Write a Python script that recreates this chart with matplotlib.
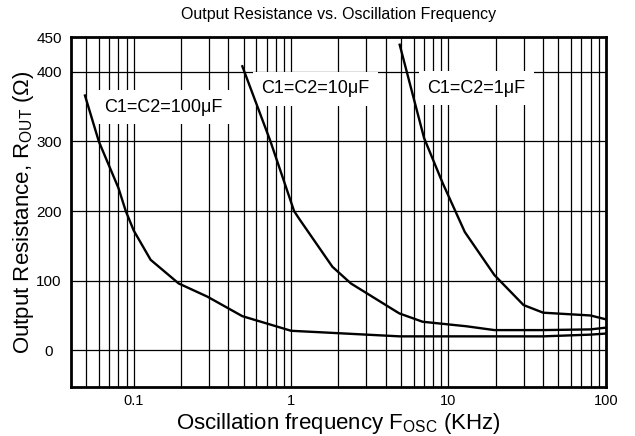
import matplotlib
matplotlib.use("Agg")
import matplotlib.pyplot as plt
import numpy as np

plt.rcParams["font.family"] = ["Liberation Sans", "DejaVu Sans"]
plt.rcParams["mathtext.fontset"] = "custom"
plt.rcParams["mathtext.rm"] = "Liberation Sans"
plt.rcParams["mathtext.it"] = "Liberation Sans"

# curves (freq in kHz, resistance in ohms)
f_100u = [0.049, 0.06, 0.08, 0.089, 0.1, 0.128, 0.193, 0.294, 0.49, 1.0, 1.5, 4.9, 40, 80, 100]
r_100u = [366, 300, 233, 200, 172, 130, 96, 77, 49, 28, 26, 20, 20, 22.5, 24]

f_10u = [0.49, 0.74, 1.045, 1.125, 1.83, 2.4, 4.87, 6.85, 13, 19.6, 40, 80, 100]
r_10u = [408, 300, 200, 189, 120, 96, 53, 41, 34.5, 29, 29, 30, 32.5]

f_1u = [4.9, 7.0, 9.2, 12.7, 19.6, 30, 40, 80, 100]
r_1u = [439, 305, 240, 170, 108, 65, 54, 50, 44.5]

labels = ["C1=C2=100\u03bcF", "C1=C2=10\u03bcF", "C1=C2=1\u03bcF"]
label_pos = [(0.0653, 343), (0.644, 369), (7.35, 370)]

fig, ax = plt.subplots(figsize=(6.35, 4.36), dpi=100)
fig.subplots_adjust(left=0.112, right=0.954, top=0.915, bottom=0.112)

ax.set_xscale("log")
ax.set_xlim(0.04, 100)
ax.set_ylim(-53, 450)

# grid: every log minor line, plus every 100 ohms
vlines = [m * 10.0**e for e in range(-2, 2) for m in range(1, 10)]
vlines = [v for v in vlines if 0.04 < v < 100]
for v in vlines:
    ax.axvline(v, color="black", lw=0.9, zorder=1)
for h in [0, 100, 200, 300, 400]:
    ax.axhline(h, color="black", lw=0.9, zorder=1)

for f, r in [(f_100u, r_100u), (f_10u, r_10u), (f_1u, r_1u)]:
    ax.plot(f, r, color="black", lw=1.7, zorder=3)

for txt, (x, y) in zip(labels, label_pos):
    ax.text(x, y, txt, fontsize=13, va="baseline", ha="left", zorder=2,
            bbox=dict(facecolor="white", edgecolor="none", pad=6))

ax.set_xticks([0.1, 1, 10, 100])
ax.set_xticklabels(["0.1", "1", "10", "100"])
ax.xaxis.set_minor_locator(matplotlib.ticker.NullLocator())
ax.set_yticks([0, 100, 200, 300, 400, 450])
ax.tick_params(axis="x", length=0, labelsize=10.5, pad=5)
ax.tick_params(axis="y", length=0, labelsize=11, pad=16)
for lab in ax.get_yticklabels():
    lab.set_horizontalalignment("center")

for s in ax.spines.values():
    s.set_linewidth(2)
    s.set_zorder(4)

ax.set_title("Output Resistance vs. Oscillation Frequency", fontsize=11.5, pad=13)
ax.set_xlabel("Oscillation frequency F$_{\\mathrm{OSC}}$ (KHz)", fontsize=16, labelpad=2)
ax.set_ylabel("Output Resistance, R$_{\\mathrm{OUT}}$ ($\\Omega$)", fontsize=16, labelpad=0)

fig.savefig("out.png", dpi=100)
